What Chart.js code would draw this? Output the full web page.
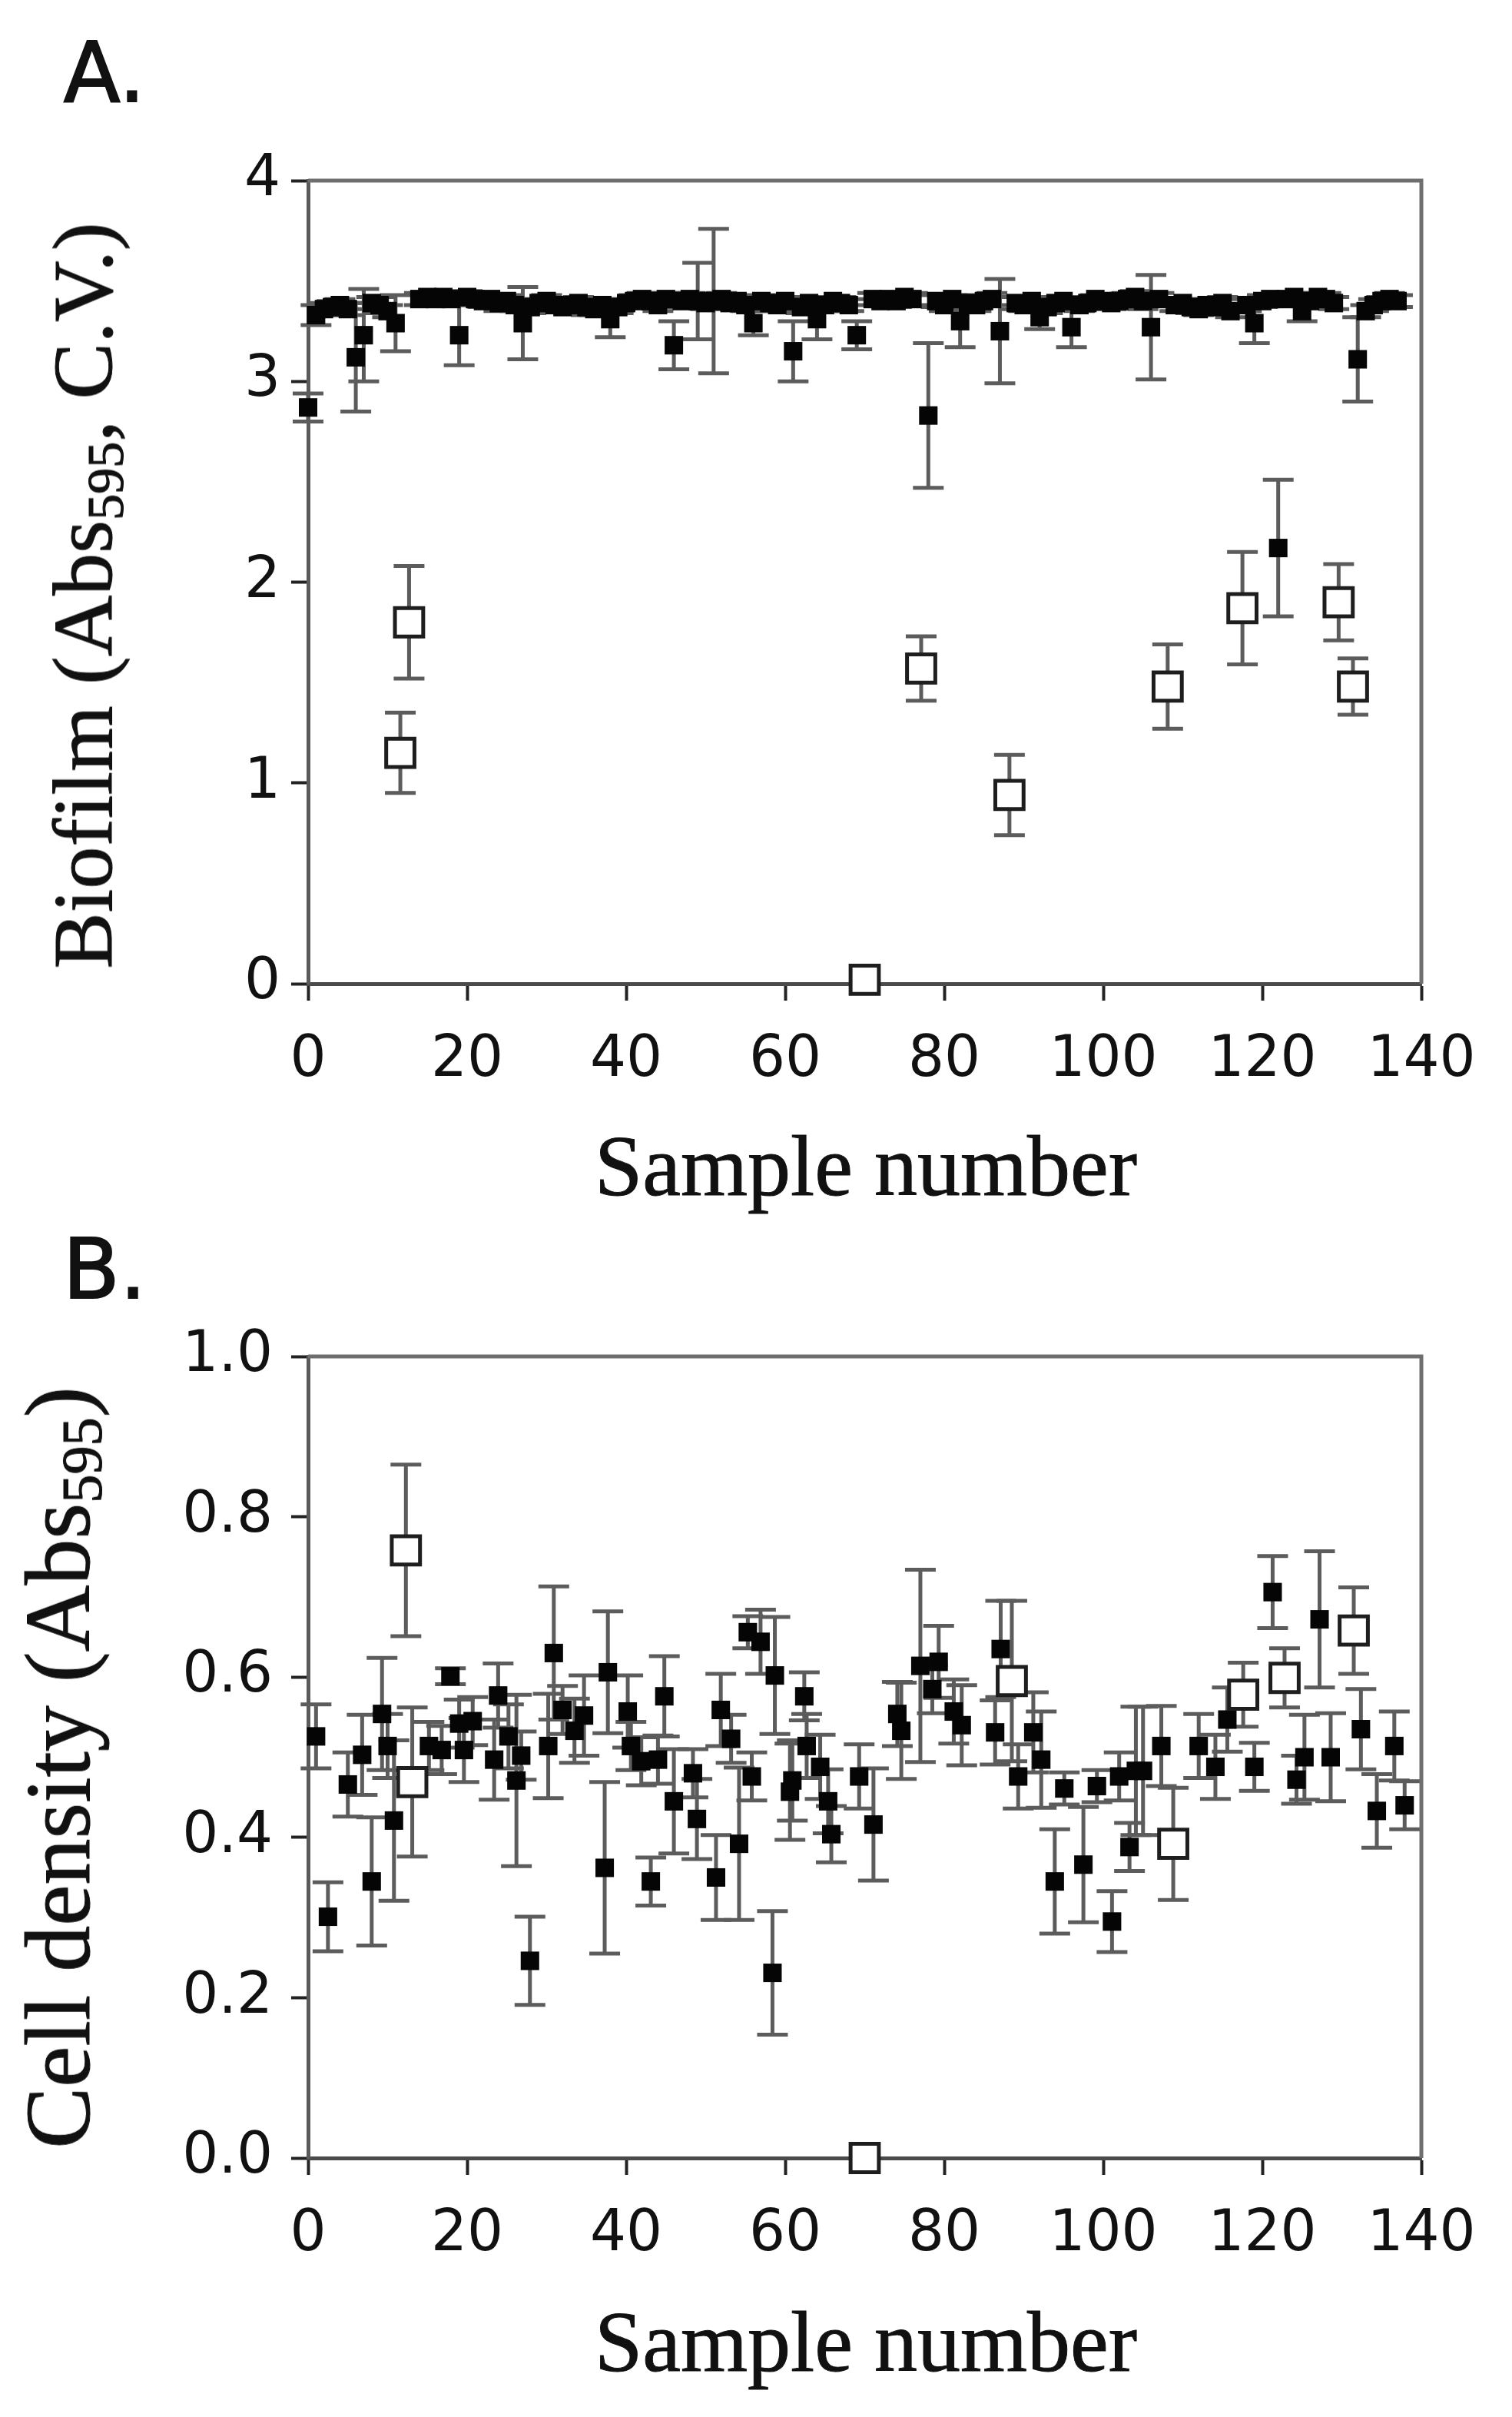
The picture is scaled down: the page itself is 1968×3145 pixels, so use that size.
<!DOCTYPE html>
<html>
<head>
<meta charset="utf-8">
<script src="https://cdn.jsdelivr.net/npm/chart.js@4.4.1/dist/chart.umd.min.js"></script>
<style>
  body { margin: 0; background: #fff; width: 1968px; height: 3145px; position: relative; overflow: hidden; }
  canvas { position: absolute; left: 0; }
  .lbl { position: absolute; white-space: nowrap; transform: translate(-50%, -50%); color: #111; line-height: 1; }
  .ser { font-family: 'Liberation Serif', 'Times New Roman', serif; font-size: 112px; -webkit-text-stroke: 1px #111; }
  .rot { transform: translate(-50%, -50%) rotate(-90deg); }
  .pan { font-family: 'DejaVu Sans', sans-serif; font-size: 108px; -webkit-text-stroke: 2px #111; }
  sub { font-size: 0.62em; vertical-align: -0.22em; line-height: 0; }
</style>
</head>
<body>
<canvas id="chartA" width="1968" height="1600" style="top:0"></canvas>
<canvas id="chartB" width="1968" height="1585" style="top:1560px"></canvas>

<div class="lbl pan" style="left:136px; top:95px">A.</div>
<div class="lbl pan" style="left:136px; top:1652px">B.</div>
<div class="lbl ser" style="left:1127px; top:1517px">Sample number</div>
<div class="lbl ser" style="left:1127px; top:3047px">Sample number</div>
<div class="lbl ser rot" style="left:108px; top:775px; font-size:110px">Biofilm (Abs<sub>595</sub>, C.V.)</div>
<div class="lbl ser rot" style="left:76px; top:2300px; font-size:120px">Cell density (Abs<sub>595</sub>)</div>

<script>
// Panel A - biofilm, filled squares
const aFillX = [0,1,2,3,4,5,6,7,8,9,10,11,14,15,16,17,18,19,20,21,22,23,24,25,26,27,28,29,30,31,32,33,34,35,36,37,38,39,40,41,42,43,44,45,46,47,48,49,50,51,52,53,54,55,56,57,58,59,60,61,62,63,64,65,66,67,68,69,71,72,73,74,75,76,78,79,80,81,82,83,84,85,86,87,89,90,91,92,93,94,95,96,97,98,99,100,101,102,103,104,105,106,107,109,110,111,112,113,114,115,116,118,119,120,121,122,123,124,125,126,127,128,129,132,133,134,135,136,137];
const aFillY = [2.87,3.33,3.36,3.37,3.38,3.36,3.12,3.23,3.39,3.38,3.35,3.29,3.41,3.42,3.41,3.42,3.41,3.23,3.42,3.41,3.40,3.41,3.39,3.40,3.38,3.29,3.37,3.39,3.40,3.38,3.37,3.38,3.39,3.37,3.36,3.38,3.31,3.37,3.39,3.40,3.41,3.40,3.38,3.41,3.18,3.40,3.41,3.40,3.39,3.40,3.41,3.39,3.40,3.38,3.29,3.40,3.39,3.38,3.40,3.15,3.37,3.39,3.31,3.38,3.40,3.39,3.38,3.23,3.41,3.40,3.41,3.40,3.42,3.41,2.83,3.40,3.38,3.41,3.30,3.39,3.38,3.40,3.41,3.25,3.39,3.38,3.40,3.32,3.37,3.39,3.40,3.27,3.38,3.39,3.41,3.40,3.39,3.40,3.41,3.42,3.40,3.27,3.41,3.38,3.39,3.37,3.36,3.38,3.37,3.39,3.35,3.38,3.29,3.40,3.41,2.17,3.41,3.42,3.35,3.40,3.42,3.41,3.39,3.11,3.35,3.38,3.40,3.41,3.40];
const aFillErr = [0.07,0.05,0.03,0.03,0.03,0.03,0.27,0.23,0.03,0.04,0.03,0.14,0.03,0.02,0.03,0.02,0.03,0.15,0.03,0.02,0.03,0.02,0.04,0.03,0.03,0.18,0.03,0.02,0.03,0.03,0.02,0.03,0.03,0.04,0.03,0.03,0.09,0.03,0.02,0.03,0.03,0.02,0.03,0.03,0.12,0.03,0.03,0.19,0.03,0.36,0.03,0.03,0.02,0.03,0.06,0.03,0.03,0.03,0.02,0.15,0.03,0.03,0.10,0.03,0.02,0.03,0.03,0.07,0.03,0.02,0.03,0.03,0.02,0.03,0.36,0.03,0.03,0.02,0.13,0.03,0.03,0.02,0.03,0.26,0.03,0.03,0.02,0.06,0.03,0.03,0.02,0.10,0.03,0.03,0.02,0.03,0.03,0.02,0.03,0.03,0.04,0.26,0.03,0.03,0.02,0.03,0.03,0.03,0.02,0.03,0.03,0.03,0.10,0.03,0.02,0.34,0.03,0.02,0.05,0.03,0.02,0.03,0.03,0.21,0.03,0.03,0.02,0.03,0.03];

// Panel A - open squares
const aOpenX = [11.6,12.7,70,77.1,88.2,108.1,117.5,129.6,131.4];
const aOpenY = [1.15,1.80,0.02,1.57,0.94,1.48,1.87,1.90,1.48];
const aOpenErr = [0.20,0.28,0,0.16,0.20,0.21,0.28,0.19,0.14];

// Panel B - cell density, filled squares
const bFillX = [1.0,2.5,5.0,6.8,8.0,9.3,10.0,10.8,15.2,16.8,17.9,19.0,19.6,20.7,23.4,23.9,25.2,26.2,26.8,27.9,30.2,30.9,32.0,33.5,34.7,37.3,37.7,40.2,40.6,41.9,43.1,44.0,44.8,46.0,48.4,48.9,51.3,51.9,53.2,54.2,55.3,55.8,56.9,58.4,58.7,60.6,60.9,62.4,62.7,64.4,65.4,65.8,69.3,71.1,74.1,74.6,77.0,78.5,79.3,81.2,82.2,86.4,87.1,89.3,91.2,92.2,93.9,95.1,97.5,99.2,101.1,102.0,103.3,104.1,105.0,107.3,112.0,114.1,115.6,119.0,121.3,124.3,125.3,127.2,128.6,132.4,134.4,136.6,137.9];
const bFillY = [0.526,0.301,0.466,0.503,0.345,0.554,0.514,0.421,0.514,0.509,0.601,0.542,0.509,0.545,0.497,0.577,0.526,0.471,0.502,0.246,0.514,0.630,0.559,0.533,0.552,0.362,0.606,0.557,0.514,0.495,0.345,0.497,0.576,0.445,0.480,0.423,0.350,0.559,0.523,0.392,0.656,0.476,0.644,0.231,0.602,0.457,0.471,0.576,0.514,0.488,0.445,0.404,0.476,0.416,0.554,0.533,0.614,0.585,0.619,0.557,0.540,0.531,0.635,0.476,0.531,0.497,0.345,0.461,0.366,0.464,0.295,0.476,0.388,0.483,0.483,0.514,0.514,0.488,0.547,0.488,0.706,0.472,0.500,0.672,0.500,0.535,0.433,0.514,0.440];
const bFillErr = [0.040,0.043,0.040,0.050,0.080,0.070,0.040,0.100,0.030,0.030,0.010,0.030,0.040,0.030,0.050,0.040,0.040,0.107,0.030,0.055,0.065,0.083,0.030,0.040,0.050,0.107,0.076,0.045,0.030,0.030,0.030,0.030,0.050,0.065,0.030,0.050,0.053,0.045,0.030,0.095,0.020,0.030,0.040,0.077,0.073,0.060,0.050,0.030,0.040,0.040,0.040,0.035,0.040,0.070,0.040,0.060,0.120,0.030,0.045,0.040,0.050,0.040,0.060,0.040,0.050,0.060,0.065,0.020,0.072,0.020,0.038,0.030,0.030,0.080,0.080,0.050,0.040,0.040,0.040,0.030,0.045,0.030,0.053,0.085,0.055,0.050,0.046,0.043,0.030];

// Panel B - open squares
const bOpenX = [12.3,13.1,70,88.5,108.8,117.6,122.8,131.5];
const bOpenY = [0.758,0.469,0.0,0.595,0.392,0.578,0.599,0.658];
const bOpenErr = [0.107,0.093,0,0.100,0.070,0.040,0.037,0.054];

const xTicks = [0, 20, 40, 60, 80, 100, 120, 140];

const pts = (xs, ys) => xs.map((x, i) => ({x: x, y: ys[i]}));

// error bars + top/right frame
const errorBars = {
  id: 'errorBars',
  beforeDatasetsDraw(chart) {
    const {ctx, scales: {x, y}} = chart;
    ctx.save();
    ctx.strokeStyle = '#5c5c5c';
    ctx.lineWidth = 5;
    chart.data.datasets.forEach(ds => {
      ds.data.forEach((p, i) => {
        const e = ds.errs[i];
        if (!e) return;
        const px = x.getPixelForValue(p.x);
        const t = y.getPixelForValue(p.y + e);
        const b = y.getPixelForValue(p.y - e);
        ctx.beginPath();
        ctx.moveTo(px, t); ctx.lineTo(px, b);
        ctx.moveTo(px - 20, t); ctx.lineTo(px + 20, t);
        ctx.moveTo(px - 20, b); ctx.lineTo(px + 20, b);
        ctx.stroke();
      });
    });
    ctx.restore();
  },
  afterDatasetsDraw(chart) {
    const {ctx, chartArea: a} = chart;
    ctx.save();
    ctx.strokeStyle = '#6e6e6e';
    ctx.lineWidth = 5;
    ctx.beginPath();
    ctx.moveTo(a.left, a.top);
    ctx.lineTo(a.right, a.top);
    ctx.lineTo(a.right, a.bottom);
    ctx.stroke();
    ctx.restore();
  }
};

function makeChart(id, fill, fillErr, open, openErr, yOpt, pad, xHeight, yPad) {
  return new Chart(document.getElementById(id), {
    type: 'scatter',
    data: {
      datasets: [
        { data: open, errs: openErr, pointStyle: 'rect', pointRadius: 26, pointHoverRadius: 26,
          backgroundColor: '#fff', borderColor: '#1e1e1e', borderWidth: 5, order: 0, clip: false },
        { data: fill, errs: fillErr, pointStyle: 'rect', pointRadius: 17, pointHoverRadius: 17,
          backgroundColor: '#050505', borderWidth: 0, order: 1, clip: false }
      ]
    },
    options: {
      responsive: false,
      animation: false,
      events: [],
      layout: { padding: pad },
      plugins: { legend: { display: false }, tooltip: { enabled: false } },
      scales: {
        x: {
          type: 'linear', min: 0, max: 140,
          afterFit: s => { s.height = xHeight; },
          afterBuildTicks: s => { s.ticks = xTicks.map(v => ({value: v})); },
          border: { display: true, color: '#4a4a4a', width: 5 },
          grid: { drawOnChartArea: false, drawTicks: true, tickLength: 22, tickWidth: 4, tickColor: '#222' },
          ticks: { color: '#111', padding: 34, maxRotation: 0, autoSkip: false,
                   font: { family: 'DejaVu Sans', size: 74 } }
        },
        y: {
          type: 'linear', min: yOpt.min, max: yOpt.max,
          afterFit: s => { s.width = 401; },
          afterBuildTicks: s => { s.ticks = yOpt.ticks.map(v => ({value: v})); },
          border: { display: true, color: '#5a5a5a', width: 5 },
          grid: { drawOnChartArea: false, drawTicks: true, tickLength: 22, tickWidth: 4, tickColor: '#222' },
          ticks: { color: '#111', padding: yPad, autoSkip: false,
                   callback: v => yOpt.fmt(v),
                   font: { family: 'DejaVu Sans', size: 74 } }
        }
      }
    },
    plugins: [errorBars]
  });
}

const aYTicks = [0, 1, 2, 3, 4];
const bYTicks = [0, 0.2, 0.4, 0.6, 0.8, 1.0];

makeChart('chartA', pts(aFillX, aFillY), aFillErr, pts(aOpenX, aOpenY), aOpenErr,
  { min: 0, max: 4, ticks: aYTicks, fmt: v => String(v) },
  { top: 235, right: 118, left: 0, bottom: 0 }, 320, 14);

makeChart('chartB', pts(bFillX, bFillY), bFillErr, pts(bOpenX, bOpenY), bOpenErr,
  { min: 0, max: 1, ticks: bYTicks, fmt: v => v.toFixed(1) },
  { top: 205, right: 118, left: 0, bottom: 0 }, 337, 24);
</script>
</body>
</html>
